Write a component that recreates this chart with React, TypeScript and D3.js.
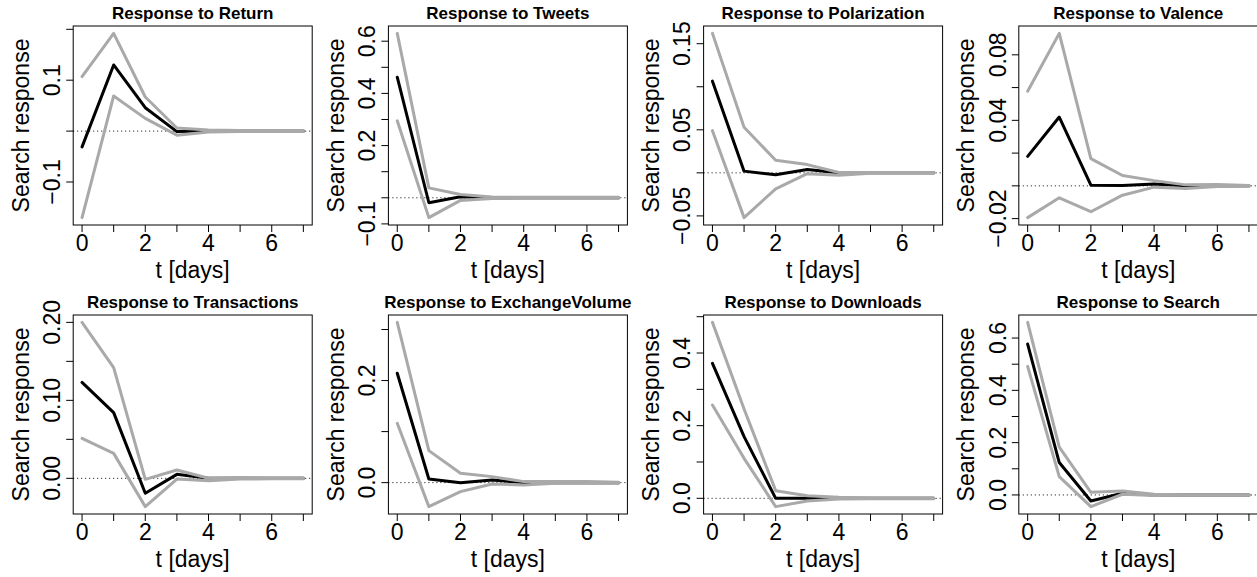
import React from "react";
import * as d3 from "d3";

const days = [0, 1, 2, 3, 4, 5, 6, 7];
const xTicks = [0, 1, 2, 3, 4, 5, 6, 7];
const xTickLabels = ["0", "", "2", "", "4", "", "6", ""];

const titles = [
  "Response to Return",
  "Response to Tweets",
  "Response to Polarization",
  "Response to Valence",
  "Response to Transactions",
  "Response to ExchangeVolume",
  "Response to Downloads",
  "Response to Search",
];

// Return
const returnMean = [-0.031, 0.13, 0.046, -0.001, 0, 0, 0, 0];
const returnUpper = [0.107, 0.192, 0.067, 0.006, 0.002, 0.001, 0.001, 0.001];
const returnLower = [-0.17, 0.069, 0.025, -0.008, -0.002, -0.001, -0.001, -0.001];
const returnTicks = [-0.1, 0, 0.1, 0.2];
const returnTickLabels = ["\u22120.1", "", "0.1", ""];

// Tweets
const tweetsMean = [0.462, -0.019, 0.004, 0, 0, 0, 0, 0];
const tweetsUpper = [0.63, 0.038, 0.0125, 0.003, 0.002, 0.002, 0.002, 0.002];
const tweetsLower = [0.295, -0.076, -0.01, -0.003, -0.002, -0.002, -0.002, -0.002];
const tweetsTicks = [-0.1, 0, 0.1, 0.2, 0.3, 0.4, 0.5, 0.6];
const tweetsTickLabels = ["\u22120.1", "", "", "0.2", "", "0.4", "", "0.6"];

// Polarization
const polarMean = [0.1065, 0.002, -0.0023, 0.0038, 0, 0, 0, 0];
const polarUpper = [0.162, 0.053, 0.0146, 0.0096, 0.0005, 0.0005, 0.0005, 0.0005];
const polarLower = [0.049, -0.052, -0.0185, -0.001, -0.0027, -0.0005, -0.0005, -0.0005];
const polarTicks = [-0.05, 0, 0.05, 0.1, 0.15];
const polarTickLabels = ["\u22120.05", "", "0.05", "", "0.15"];

// Valence
const valenceMean = [0.018, 0.042, 0.0004, 0.0002, 0.0012, 0, 0, 0];
const valenceUpper = [0.0578, 0.0931, 0.0166, 0.0063, 0.0032, 0.0006, 0.0008, 0.0002];
const valenceLower = [-0.0194, -0.0073, -0.0158, -0.0057, -0.0008, -0.0016, -0.0004, -0.0002];
const valenceTicks = [-0.02, 0, 0.02, 0.04, 0.06, 0.08];
const valenceTickLabels = ["\u22120.02", "", "", "0.04", "", "0.08"];

// Transactions
const transMean = [0.123, 0.0842, -0.0192, 0.0051, 0, 0, 0, 0];
const transUpper = [0.2, 0.1419, -0.0013, 0.0107, 0, 0.001, 0.0005, 0.0005];
const transLower = [0.0513, 0.032, -0.0363, -0.0009, -0.003, -0.001, -0.0005, -0.0005];
const transTicks = [0, 0.05, 0.1, 0.15, 0.2];
const transTickLabels = ["0.00", "", "0.10", "", "0.20"];

// ExchangeVolume
const volumeMean = [0.2144, 0.0072, 0, 0.0052, 0, 0, 0, 0];
const volumeUpper = [0.314, 0.0627, 0.0183, 0.0118, 0.002, 0.002, 0.002, 0.001];
const volumeLower = [0.1163, -0.047, -0.0176, -0.0026, -0.0046, -0.001, -0.001, -0.001];
const volumeTicks = [0, 0.1, 0.2, 0.3];
const volumeTickLabels = ["0.0", "", "0.2", ""];

// Downloads
const downloadsMean = [0.3716, 0.1697, 0, 0, 0, 0, 0, 0];
const downloadsUpper = [0.4844, 0.2459, 0.0211, 0.0073, 0.003, 0.001, 0.001, 0.001];
const downloadsLower = [0.2569, 0.11, -0.0229, -0.0073, -0.002, -0.001, -0.001, -0.001];
const downloadsTicks = [0, 0.1, 0.2, 0.3, 0.4, 0.5];
const downloadsTickLabels = ["0.0", "", "0.2", "", "0.4", ""];

// Search
const searchMean = [0.577, 0.1239, -0.023, 0.0064, 0, 0, 0, 0];
const searchUpper = [0.66, 0.1826, 0.0102, 0.0153, 0.0026, 0.001, 0.001, 0.001];
const searchLower = [0.4917, 0.0702, -0.0447, 0.0026, -0.0026, -0.001, -0.001, -0.001];
const searchTicks = [0, 0.1, 0.2, 0.3, 0.4, 0.5, 0.6];
const searchTickLabels = ["0.0", "", "0.2", "", "0.4", "", "0.6"];

const panels = [
  { mean: returnMean, upper: returnUpper, lower: returnLower, ticks: returnTicks, labels: returnTickLabels },
  { mean: tweetsMean, upper: tweetsUpper, lower: tweetsLower, ticks: tweetsTicks, labels: tweetsTickLabels },
  { mean: polarMean, upper: polarUpper, lower: polarLower, ticks: polarTicks, labels: polarTickLabels },
  { mean: valenceMean, upper: valenceUpper, lower: valenceLower, ticks: valenceTicks, labels: valenceTickLabels },
  { mean: transMean, upper: transUpper, lower: transLower, ticks: transTicks, labels: transTickLabels },
  { mean: volumeMean, upper: volumeUpper, lower: volumeLower, ticks: volumeTicks, labels: volumeTickLabels },
  { mean: downloadsMean, upper: downloadsUpper, lower: downloadsLower, ticks: downloadsTicks, labels: downloadsTickLabels },
  { mean: searchMean, upper: searchUpper, lower: searchLower, ticks: searchTicks, labels: searchTickLabels },
];

const W = 1257;
const H = 577;
const COL_W = 315.2;
const BOX_L = 73.2;
const BOX_R = 312.2;
const ROW_TOPS = [26, 315];
const BOX_H = 199;
const FONT = "'Liberation Sans', Arial, Helvetica, sans-serif";
const AX_FS = 23;
const TITLE_FS = 17;
const GREY = "#a9a9a9";

function Panel({ idx }: { idx: number }) {
  const p = panels[idx];
  const col = idx % 4;
  const row = Math.floor(idx / 4);
  const left = col * COL_W + BOX_L;
  const right = col * COL_W + BOX_R;
  const top = ROW_TOPS[row];
  const bottom = top + BOX_H;

  const all = [...p.mean, ...p.upper, ...p.lower];
  const mn = d3.min(all) as number;
  const mx = d3.max(all) as number;
  const r = mx - mn;
  const x = d3.scaleLinear().domain([-0.28, 7.28]).range([left, right]);
  const y = d3.scaleLinear().domain([mn - 0.04 * r, mx + 0.04 * r]).range([bottom, top]);
  const line = d3
    .line<number>()
    .x((_, i) => x(days[i]))
    .y((d) => y(d));

  const cx = (left + right) / 2;
  const cy = (top + bottom) / 2;

  return (
    <g>
      <text x={cx} y={top - 7} textAnchor="middle" fontFamily={FONT} fontWeight="bold" fontSize={TITLE_FS} fill="#000">
        {titles[idx]}
      </text>
      <line x1={left} x2={right} y1={y(0)} y2={y(0)} stroke="#000" strokeWidth={1} strokeDasharray="1,3" />
      <path d={line(p.mean) || ""} fill="none" stroke="#000" strokeWidth={3} strokeLinejoin="round" strokeLinecap="round" />
      <path d={line(p.upper) || ""} fill="none" stroke={GREY} strokeWidth={3} strokeLinejoin="round" strokeLinecap="round" />
      <path d={line(p.lower) || ""} fill="none" stroke={GREY} strokeWidth={3} strokeLinejoin="round" strokeLinecap="round" />
      <rect x={left} y={top} width={right - left} height={bottom - top} fill="none" stroke="#000" strokeWidth={1} />
      {xTicks.map((t, i) => (
        <g key={"x" + i}>
          <line x1={x(t)} x2={x(t)} y1={bottom} y2={bottom + 7} stroke="#000" strokeWidth={1} />
          {xTickLabels[i] && (
            <text x={x(t)} y={bottom + 26} textAnchor="middle" fontFamily={FONT} fontSize={AX_FS} fill="#000">
              {xTickLabels[i]}
            </text>
          )}
        </g>
      ))}
      {p.ticks.map((t, i) => (
        <g key={"y" + i}>
          <line x1={left - 7} x2={left} y1={y(t)} y2={y(t)} stroke="#000" strokeWidth={1} />
          {p.labels[i] && (
            <text
              transform={`translate(${left - 13.3},${y(t)}) rotate(-90)`}
              textAnchor="middle"
              fontFamily={FONT}
              fontSize={AX_FS}
              fill="#000"
            >
              {p.labels[i]}
            </text>
          )}
        </g>
      ))}
      <text x={cx} y={bottom + 53} textAnchor="middle" fontFamily={FONT} fontSize={AX_FS} fill="#000">
        t [days]
      </text>
      <text
        transform={`translate(${left - 44.5},${cy}) rotate(-90)`}
        textAnchor="middle"
        fontFamily={FONT}
        fontSize={AX_FS}
        fill="#000"
      >
        Search response
      </text>
    </g>
  );
}

export default function App() {
  return (
    <svg
      width={W}
      height={H}
      viewBox={`0 0 ${W} ${H}`}
      style={{ position: "absolute", left: 0, top: 0, display: "block", background: "#fff" }}
    >
      <rect x={0} y={0} width={W} height={H} fill="#fff" />
      {panels.map((_, i) => (
        <Panel key={i} idx={i} />
      ))}
    </svg>
  );
}
